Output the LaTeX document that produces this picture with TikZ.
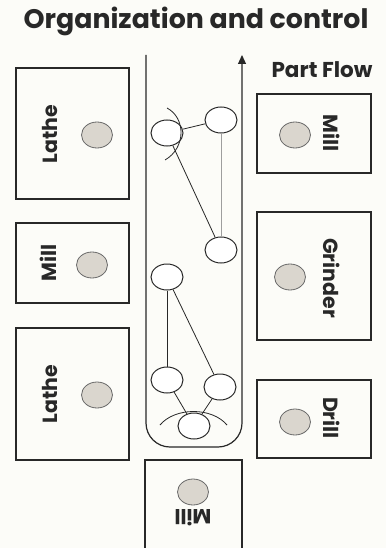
\documentclass[tikz,border=0pt]{standalone}
\usepackage{fontspec}
\setmainfont{Poppins}
\usetikzlibrary{shapes.geometric,arrows.meta}
\definecolor{paper}{RGB}{252,252,248}
\definecolor{ink}{RGB}{40,40,40}
\definecolor{stock}{RGB}{218,214,206}
\tikzset{
  machine/.style={draw=ink, line width=1.6pt},
  stocknode/.style={ellipse, draw=ink!70, fill=stock, line width=0.8pt, minimum width=31pt, minimum height=26pt, inner sep=0pt},
  cell/.style={ellipse, draw=ink, fill=white, line width=1pt, minimum width=32pt, minimum height=26pt, inner sep=0pt},
  mlabel/.style={font=\fontsize{20.5}{24}\selectfont\bfseries, text=ink},
  link/.style={draw=ink, line width=0.8pt}
}
\begin{document}
\begin{tikzpicture}[x=1pt, y=-1pt]
    \useasboundingbox[fill=paper] (0,0) rectangle (386,548);
    \node[font=\fontsize{26.8}{30}\selectfont\bfseries, text=ink] (title) at (196,21) {Organization and control};
    \node[font=\fontsize{21.5}{25}\selectfont\bfseries, text=ink] (flow) at (322,70) {Part Flow};
    % machines on the left
    \draw[machine] (16,68) rectangle (129,199);
    \node[mlabel, rotate=90] (lathea) at (50,134) {Lathe};
    \node[stocknode] (sa) at (97,135) {};
    \draw[machine] (16,223) rectangle (129,303);
    \node[mlabel, rotate=90] (milla) at (48,263) {Mill};
    \node[stocknode] (sb) at (92,265) {};
    \draw[machine] (16,328) rectangle (129,460);
    \node[mlabel, rotate=90] (latheb) at (50,394) {Lathe};
    \node[stocknode] (sc) at (97,395) {};
    % machines on the right
    \draw[machine] (257,94) rectangle (371,173);
    \node[mlabel, rotate=-90] (millb) at (332,133) {Mill};
    \node[stocknode] (sd) at (295,135) {};
    \draw[machine] (257,212) rectangle (371,340);
    \node[mlabel, rotate=-90] (grinder) at (332,278) {Grinder};
    \node[stocknode] (se) at (290,277) {};
    \draw[machine] (257,380) rectangle (371,458);
    \node[mlabel, rotate=-90] (drill) at (332,418) {Drill};
    \node[stocknode] (sf) at (295,422) {};
    % machine at the bottom
    \draw[machine] (145,548) -- (145,460) -- (242,460) -- (242,548);
    \node[mlabel, rotate=180] (millc) at (193,518) {Mill};
    \node[stocknode] (sg) at (193,492) {};
    % flow channel
    \coordinate (top) at (146,55);
    \coordinate (tip) at (242,55);
    \draw[draw=ink, line width=1.2pt, rounded corners=24pt, -{Triangle[length=9pt,width=8pt]}]
      (top) -- (146,447) -- (242,447) -- (tip);
    % control network
    \node[cell] (n1) at (167,133) {};
    \node[cell] (n2) at (221,120) {};
    \node[cell] (n3) at (221,250) {};
    \node[cell] (n4) at (167,277) {};
    \node[cell] (n5) at (167,380) {};
    \node[cell] (n6) at (220,387) {};
    \node[cell] (n7) at (194,426) {};
    \draw[link] (n1) -- (n2);
    \draw[link, draw=ink!45] (n2) -- (n3);
    \draw[link] (n1) -- (n3);
    \draw[link] (n4) -- (n5);
    \draw[link] (n4) -- (n6);
    \draw[link] (n5) -- (n7);
    \draw[link] (n6) -- (n7);
    \draw[link] (167,108) .. controls (186,118) and (186,148) .. (165,160);
    \draw[link] (160,425) .. controls (175,407) and (212,407) .. (227,425);
\end{tikzpicture}
\end{document}
